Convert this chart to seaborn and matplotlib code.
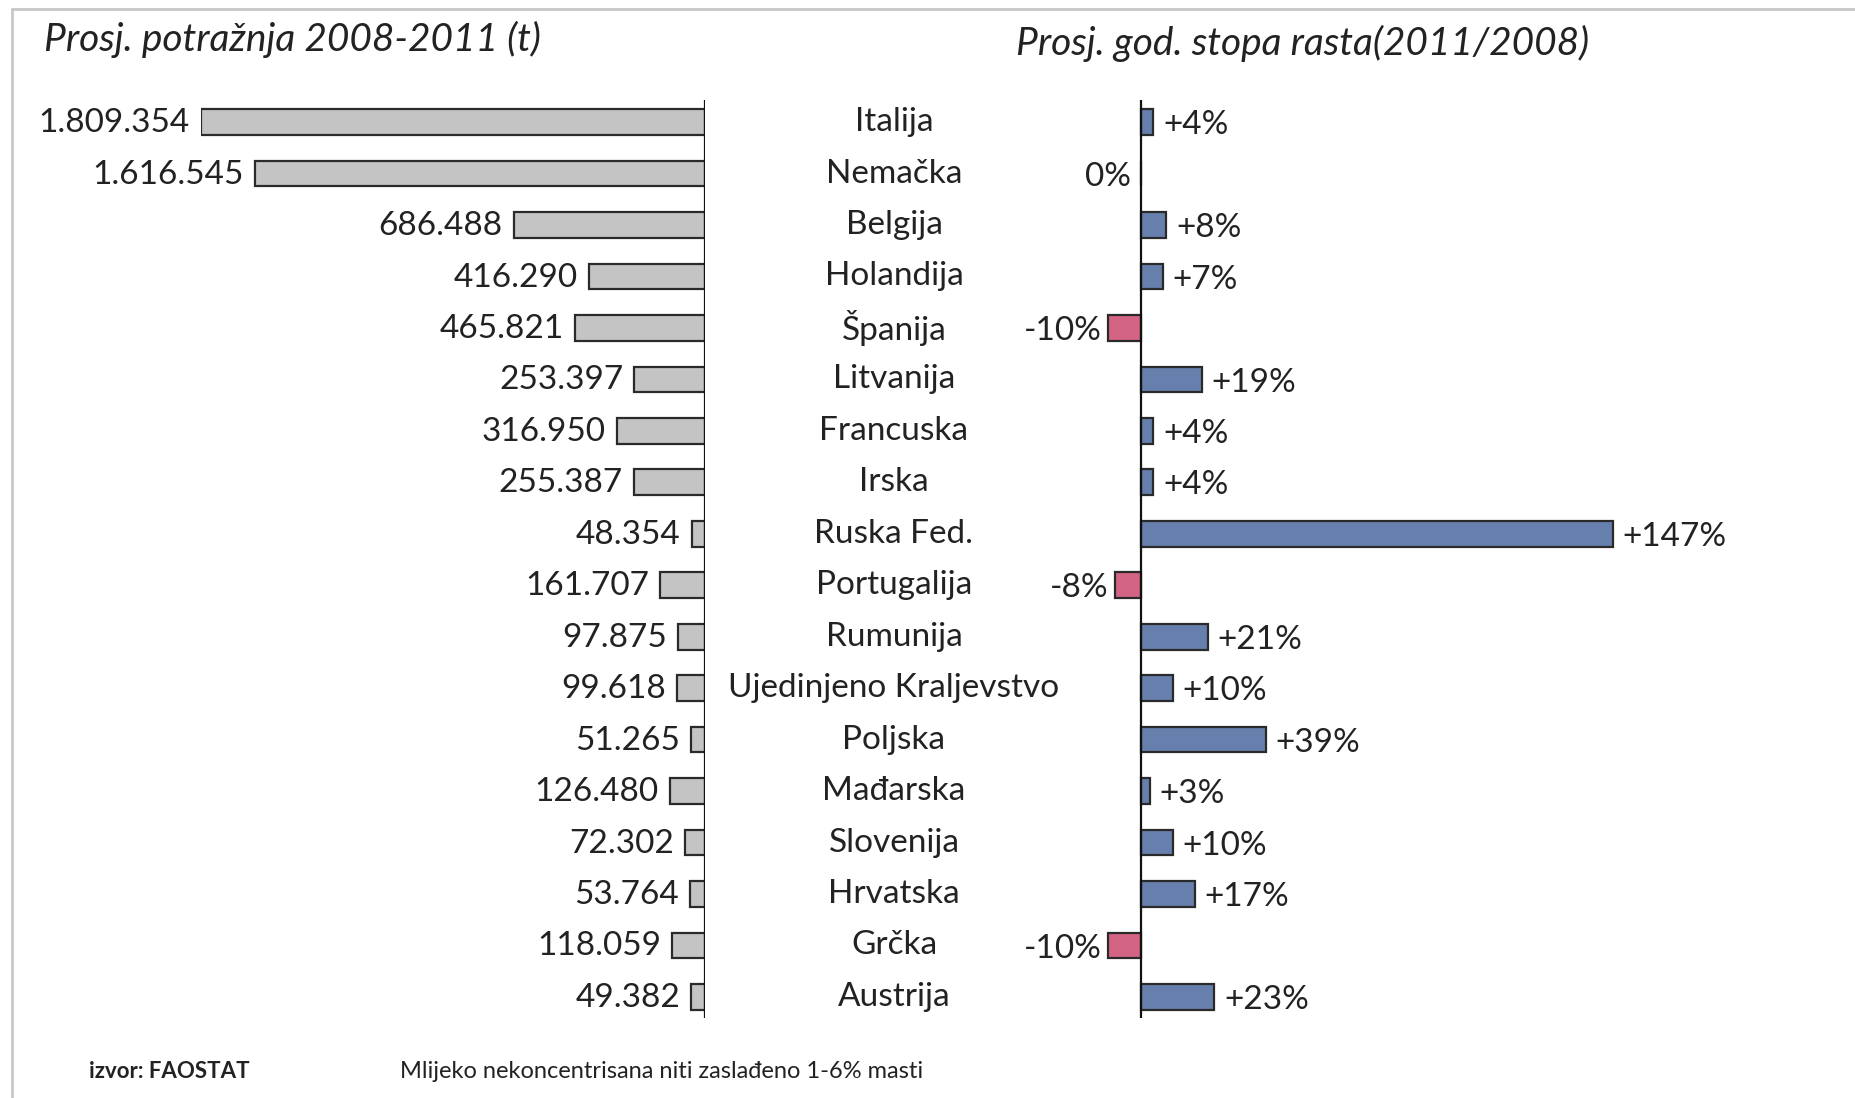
import matplotlib
matplotlib.use('Agg')
import matplotlib.pyplot as plt
import matplotlib.transforms as mtransforms
from matplotlib.lines import Line2D
import numpy as np
import pandas as pd
import seaborn as sns

countries = ['Italija', 'Nemačka', 'Belgija', 'Holandija', 'Španija', 'Litvanija',
             'Francuska', 'Irska', 'Ruska Fed.', 'Portugalija', 'Rumunija',
             'Ujedinjeno Kraljevstvo', 'Poljska', 'Mađarska', 'Slovenija',
             'Hrvatska', 'Grčka', 'Austrija']
demand = [1809354, 1616545, 686488, 416290, 465821, 253397, 316950, 255387, 48354,
          161707, 97875, 99618, 51265, 126480, 72302, 53764, 118059, 49382]
demand_labels = ['1.809.354', '1.616.545', '686.488', '416.290', '465.821', '253.397',
                 '316.950', '255.387', '48.354', '161.707', '97.875', '99.618',
                 '51.265', '126.480', '72.302', '53.764', '118.059', '49.382']
growth = [4, 0, 8, 7, -10, 19, 4, 4, 147, -8, 21, 10, 39, 3, 10, 17, -10, 23]

df = pd.DataFrame({'country': countries, 'demand': demand, 'growth': growth})

sns.set_style('white')
plt.rcParams['font.family'] = ['Lato', 'DejaVu Sans']

W, H = 1856, 1098
fig = plt.figure(figsize=(W / 100, H / 100), dpi=100)

top = 1 - 100 / H
bottom = 1 - 1018 / H
ylims = (17.41, -0.43)
fs = 24

# left panel: demand
x0, x1 = 201 / W, 705 / W
axl = fig.add_axes([x0, bottom, x1 - x0, top - bottom])
sns.barplot(data=df, y='country', x='demand', ax=axl, orient='h', color='#c4c4c4',
            edgecolor='#2a2a2a', linewidth=1.6, width=0.5)
axl.set_xlim(max(demand), 0)
axl.set_ylim(*ylims)
axl.axvline(0, color='#111111', lw=1.6)
for i, (v, lab) in enumerate(zip(demand, demand_labels)):
    axl.text(v + max(demand) * 0.022, i + 0.02, lab, ha='right', va='center', fontsize=fs,
             color='#222222')

# right panel: growth
gx0, gx1 = 1102 / W, 1783 / W
axr = fig.add_axes([gx0, bottom, gx1 - gx0, top - bottom])
colors = ['#e5527c' if g < 0 else '#5b7bb8' for g in growth]
sns.barplot(data=df, y='country', x='growth', ax=axr, orient='h', hue='country',
            palette=colors, legend=False, edgecolor='#2a2a2a', linewidth=1.6, width=0.5)
axr.set_xlim(-12, 200)
axr.set_ylim(*ylims)
axr.axvline(0, color='#111111', lw=1.6)
for i, g in enumerate(growth):
    if g > 0:
        axr.text(g + 3.0, i + 0.06, f'+{g}%', ha='left', va='center', fontsize=fs,
                 color='#222222')
    else:
        axr.text(g - 2.0 if g < 0 else -3.0, i + 0.06, f'{g}%', ha='right', va='center',
                 fontsize=fs, color='#222222')

for ax in (axl, axr):
    ax.set_xlabel('')
    ax.set_ylabel('')
    ax.set_xticks([])
    ax.set_yticks([])
    for s in ax.spines.values():
        s.set_visible(False)
    ax.patch.set_alpha(0)

# country names in the middle
trans = mtransforms.blended_transform_factory(fig.transFigure, axl.transData)
for i, c in enumerate(countries):
    fig.text(894 / W, i, c, transform=trans, ha='center', va='center', fontsize=fs,
             color='#222222')

# titles
fig.text(44 / W, 1 - 39 / H, 'Prosj. potražnja 2008-2011 (t)', ha='left', va='center',
         fontsize=28, style='italic', color='#222222')
fig.text(1016 / W, 1 - 43 / H, 'Prosj. god. stopa rasta(2011/2008)', ha='left', va='center',
         fontsize=28, style='italic', color='#222222')

# footer
fig.text(89 / W, 1 - 1071 / H, 'izvor: FAOSTAT', ha='left', va='center', fontsize=16,
         fontweight='bold', color='#222222')
fig.text(400 / W, 1 - 1071 / H, 'Mlijeko nekoncentrisana niti zaslađeno 1-6% masti',
         ha='left', va='center', fontsize=17, color='#222222')

# light frame
fig.add_artist(Line2D([12 / W, 1], [1 - 9 / H, 1 - 9 / H], transform=fig.transFigure,
                      color='#c8c8c8', lw=2))
fig.add_artist(Line2D([12 / W, 12 / W], [0, 1 - 9 / H], transform=fig.transFigure,
                      color='#c8c8c8', lw=2))

fig.savefig('out.png', dpi=100)
